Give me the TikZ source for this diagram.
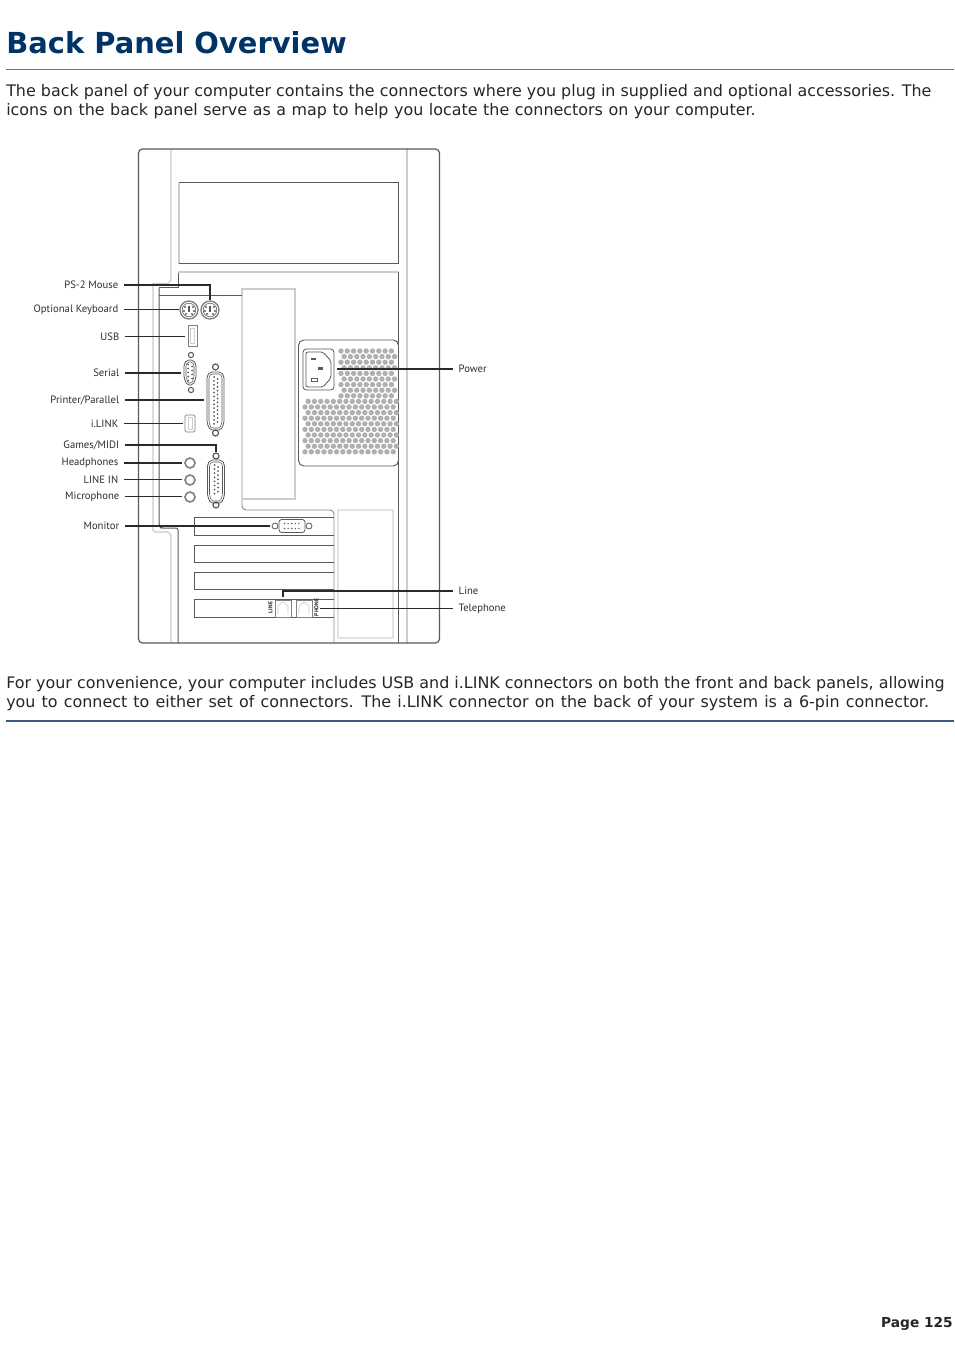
\documentclass[tikz,border=0pt]{standalone}
\usepackage{fontspec}
\setmainfont{DejaVu Sans}
\newfontfamily\lblfont{PT Sans}
\definecolor{titleblue}{HTML}{003366}
\definecolor{ruleblue}{HTML}{3D5A80}
\definecolor{partdark}{HTML}{5A5A5A}
\definecolor{partlight}{HTML}{CCCCCC}
\definecolor{partfaint}{HTML}{E2E2E2}
\definecolor{leadcol}{HTML}{2A2A2A}
\definecolor{ventcol}{HTML}{B0B0B0}
\tikzset{
  dark/.style={draw=partdark,line width=0.75pt},
  light/.style={draw=partlight,line width=0.8pt},
  faint/.style={draw=partfaint,line width=0.9pt},
  lead/.style={draw=leadcol,line width=0.85pt},
  body/.style={anchor=base west,inner sep=0pt,font=\fontsize{11.94pt}{14pt}\selectfont,text=black!85},
  lbl/.style={inner xsep=4.1pt,inner ysep=0pt,font=\lblfont\fontsize{8pt}{9pt}\selectfont,text=black!82},
  lbll/.style={lbl,anchor=east},
  lblr/.style={lbl,anchor=west},
  port/.style={draw=partdark,line width=0.6pt,inner sep=0pt},
  ring/.style={draw=black!50,line width=1pt,inner sep=0pt},
  ghost/.style={inner sep=0pt,minimum width=#1*0.75pt},
  card/.style={draw=partdark,line width=0.7pt},
  tiny/.style={font=\lblfont\bfseries\fontsize{4.2pt}{5pt}\selectfont,inner sep=0pt,text=black!85}
}
\newcommand{\dshell}[4]{% cx, top, bottom, half-width
  \draw[port,rounded corners=1.5pt] ({#1-#4},{#2+4}) -- ({#1-#4+3},{#2}) -- ({#1+#4-3},{#2}) -- ({#1+#4},{#2+4}) -- ({#1+#4},{#3-7}) -- ({#1+#4-3},{#3}) -- ({#1-#4+3},{#3}) -- ({#1-#4},{#3-7}) -- cycle;
  \draw[port,line width=0.4pt,rounded corners=1pt] ({#1-#4+2},{#2+5}) -- ({#1-#4+4},{#2+2}) -- ({#1+#4-4},{#2+2}) -- ({#1+#4-2},{#2+5}) -- ({#1+#4-2},{#3-8}) -- ({#1+#4-4},{#3-2}) -- ({#1-#4+4},{#3-2}) -- ({#1-#4+2},{#3-8}) -- cycle;
}
\begin{document}
\begin{tikzpicture}[x=0.75pt,y=-0.75pt]
\useasboundingbox (0,0) rectangle (954,1351);
\fill[white] (0,0) rectangle (954,1351);

% page text
\node[anchor=base west,inner sep=0pt,font=\bfseries\fontsize{21.7pt}{26pt}\selectfont,text=titleblue] (title) at (6,53.5) {Back Panel Overview};
\coordinate (r1a) at (6,69.5); \coordinate (r1b) at (954,69.5);
\draw[draw=black!55,line width=0.6pt] (r1a) -- (r1b);
\node[body] (p1) at (6,96.5) {The back panel of your computer contains the connectors where you plug in supplied and optional accessories. The};
\node[body] (p2) at (6,115.5) {\spaceskip=4.17pt icons on the back panel serve as a map to help you locate the connectors on your computer.};
\node[body] (p3) at (6,688) {For your convenience, your computer includes USB and i.LINK connectors on both the front and back panels, allowing};
\node[body] (p4) at (6,707) {\spaceskip=4.62pt you to connect to either set of connectors. The i.LINK connector on the back of your system is a 6-pin connector.};
\coordinate (r2a) at (6,721); \coordinate (r2b) at (954,721);
\draw[draw=ruleblue,line width=0.9pt] (r2a) -- (r2b);
\node[anchor=base east,inner sep=0pt,font=\bfseries\fontsize{10.3pt}{12pt}\selectfont,text=black!85] (page) at (953,1327) {Page 125};

% chassis light lines
\draw[light] (171,149) -- (171,280) -- (168,283.5) -- (153,283.5) -- (153,530) -- (155,532) -- (168,532) -- (171,535) -- (171,643);
\draw[light] (407,149) -- (407,643);
\draw[faint] (338,510) rectangle (393,638);
\draw[light] (242,296) -- (242,289) -- (295,289) -- (295,499) -- (243,499);

% upper bay
\draw[light,line width=1pt] (179,183) -- (179,264);
\draw[dark] (179,183) -- (398.5,183) -- (398.5,264) -- (179,264);

% chassis dark lines
\draw[dark,rounded corners=1.5pt] (159,288) -- (159,526) -- (161,528) -- (178,528) -- (178,643);
\draw[dark] (159,288) -- (178,288) -- (178,272);
\draw[light,line width=1pt] (178,272) -- (398.5,272);
\draw[dark] (398.5,272) -- (398.5,643);
\draw[dark] (159,296) -- (242,296);
\draw[draw=black!45,line width=0.7pt,rounded corners=3pt] (242,296) -- (242,510) -- (334,510) -- (334,643);

% outer case
\draw[draw=partdark,line width=0.9pt,rounded corners=3pt] (138.5,149) rectangle (439.5,643);

% cards
\draw[card] (334,517) -- (194,517) -- (194,535) -- (334,535);
\draw[card] (334,545) -- (194,545) -- (194,562) -- (334,562);
\draw[card] (334,572) -- (194,572) -- (194,589) -- (334,589);
\draw[card] (334,599) -- (194,599) -- (194,617) -- (334,617);

% power panel
\draw[draw=partdark,line width=0.7pt,fill=white,rounded corners=4pt] (298.5,340) rectangle (398.5,466);
\foreach \r in {0,...,18}{
  \pgfmathsetmacro{\yy}{351+\r*5.6}
  \pgfmathsetmacro{\off}{mod(\r,2)*3.15}
  \ifnum\r<9
    \foreach \c in {0,...,8}{ \fill[ventcol] ({341+\c*6.3+\off},\yy) circle[radius=2.7]; }
  \else
    \foreach \c in {0,...,14}{ \fill[ventcol] ({305+\c*6.3+\off},\yy) circle[radius=2.7]; }
  \fi
}
\node[draw=partdark,line width=0.6pt,rounded corners=2.5pt,fill=white,minimum width=31*0.75pt,minimum height=41*0.75pt,inner sep=0pt] (socket) at (318.5,369.5) {};
\draw[draw=partdark,line width=0.6pt,rounded corners=1.5pt] (306,352) -- (323,352) -- (331,361) -- (331,378) -- (323,387) -- (306,387) -- cycle;
\fill[partdark] (311,358) rectangle (316,360.5);
\fill[partdark] (318,367.5) rectangle (323,370);
\draw[partdark,line width=0.6pt] (311,378) rectangle (317,381);

% PS/2
\node[ring,circle,minimum size=18*0.75pt] (kbd) at (189,310) {};
\node[ring,circle,minimum size=18*0.75pt] (mouse) at (210,310) {};
\foreach \cx in {189,210}{
  \draw[port,line width=0.4pt] (\cx,310) circle[radius=6.8];
  \fill[partdark] (\cx-1.2,306.5) rectangle (\cx+1.2,312.5);
  \foreach \dx/\dy in {-4/-3,4/-3,-5/1,5/1,-3/4,3/4}{\fill[partdark] (\cx+\dx,310+\dy) circle[radius=1.1];}
}
% USB
\node[port,draw=black!50,minimum width=9*0.75pt,minimum height=21*0.75pt] (usb) at (192.5,336) {};
\draw[partlight,line width=0.5pt] (190.5,328) rectangle (194.5,343);
% serial
\node[ghost=12,minimum height=25*0.75pt] (serial) at (190,373) {};
\dshell{190}{360}{385}{6}
\foreach \i in {0,...,4}{\fill[partdark] (188,364.5+\i*4) circle[radius=1];}
\foreach \i in {0,...,3}{\fill[partdark] (192,366.5+\i*4) circle[radius=1];}
\draw[port,line width=0.8pt] (191,355) circle[radius=2.6];
\draw[port,line width=0.8pt] (191,390) circle[radius=2.6];
% parallel
\node[ghost=17,minimum height=58*0.75pt] (parallel) at (215.5,400) {};
\dshell{215.5}{372}{430}{8.5}
\foreach \i in {0,...,12}{\fill[partdark] (214,377+\i*3.9) circle[radius=1];}
\foreach \i in {0,...,11}{\fill[partdark] (217.5,379+\i*3.9) circle[radius=1];}
\draw[port,line width=0.9pt] (215.5,367) circle[radius=3];
\draw[port,line width=0.9pt] (215.5,433) circle[radius=3];
% i.LINK
\node[port,draw=black!50,rounded corners=1pt,minimum width=10*0.75pt,minimum height=17*0.75pt] (ilink) at (190,423.5) {};
\draw[partlight,line width=0.5pt] (188,417.5) rectangle (192,429.5);
% games
\node[circle,inner sep=0pt,minimum size=7*0.75pt] (games) at (216,456) {};
\draw[port,line width=0.9pt] (216,456) circle[radius=3];
\dshell{216}{460}{503}{8.5}
\foreach \i in {0,...,7}{\fill[partdark] (214.5,465+\i*4.1) circle[radius=1];}
\foreach \i in {0,...,6}{\fill[partdark] (218,467+\i*4.1) circle[radius=1];}
\draw[port,line width=0.9pt] (216,505) circle[radius=3];
% audio
\foreach \n/\yy in {head/463,linein/480,micro/497}{
  \node[ring,circle,line width=1.2pt,minimum size=10*0.75pt] (\n) at (190,\yy) {};
}
% VGA
\node[port,rounded corners=2pt,minimum width=26*0.75pt,minimum height=13*0.75pt] (vga) at (292,526) {};
\foreach \i in {0,...,4}{\fill[partdark] (284.5+\i*3.6,523.5) circle[radius=.8];}
\foreach \i in {0,...,4}{\fill[partdark] (284.5+\i*3.6,528.5) circle[radius=.8];}
\node[port,circle,minimum size=6*0.75pt] (vgal) at (275,526) {};
\node[port,circle,minimum size=6*0.75pt] (vgar) at (309,526) {};
% jacks
\node[port,draw=black!50,minimum width=16*0.75pt,minimum height=17*0.75pt] (linejack) at (283,608.5) {};
\node[port,draw=black!50,minimum width=16*0.75pt,minimum height=17*0.75pt] (teljack) at (304,608.5) {};
\draw[partlight,line width=0.5pt] (278,614) -- (278,606) -- (283,602) -- (288,606) -- (288,614);
\draw[partlight,line width=0.5pt] (299,614) -- (299,606) -- (304,602) -- (309,606) -- (309,614);
\node[tiny,rotate=90] (linetxt) at (270.5,607.5) {LINE};
\node[tiny,rotate=90] (phonetxt) at (316.5,607.5) {PHONE};

% labels
\node[lbll] (lps) at (124,285) {PS-2 Mouse};
\node[lbll] (lkb) at (124,309.5) {Optional Keyboard};
\node[lbll] (lusb) at (125,336.5) {USB};
\node[lbll] (lser) at (125,373) {Serial};
\node[lbll] (lpar) at (125,400) {Printer/Parallel};
\node[lbll] (lil) at (124,423.5) {i.LINK};
\node[lbll] (lgm) at (125,445) {Games/MIDI};
\node[lbll] (lhp) at (124,463) {Headphones};
\node[lbll] (lli) at (124,479.5) {LINE IN};
\node[lbll] (lmc) at (125,496.5) {Microphone};
\node[lbll] (lmn) at (125,526) {Monitor};
\node[lblr] (lpw) at (453,369) {Power};
\node[lblr] (lln) at (453,591) {Line};
\node[lblr] (ltl) at (453,608.5) {Telephone};

% connectors
\begin{scope}[lead]
\draw (lps.east) -| (mouse.north);
\draw (lkb.east) -- (lkb.east -| kbd.west);
\draw (lusb.east) -- ([xshift=-3*0.75pt]lusb.east -| usb.west);
\draw (lser.east) -- ([xshift=-3*0.75pt]lser.east -| serial.west);
\draw (lpar.east) -- ([xshift=-3*0.75pt]lpar.east -| parallel.west);
\draw (lil.east) -- ([xshift=-2*0.75pt]lil.east -| ilink.west);
\draw (lgm.east) -| (games.north);
\draw (lhp.east) -- ([xshift=-2*0.75pt]lhp.east -| head.west);
\draw (lli.east) -- ([xshift=-2*0.75pt]lli.east -| linein.west);
\draw (lmc.east) -- ([xshift=-2*0.75pt]lmc.east -| micro.west);
\draw (lmn.east) -- ([xshift=-2*0.75pt]lmn.east -| vgal.west);
\draw (lpw.west) -- ([xshift=3*0.75pt]lpw.west -| socket.east);
\draw (lln.west) -| ([yshift=3*0.75pt]linejack.north);
\draw (ltl.west) -- ([xshift=1*0.75pt]ltl.west -| phonetxt.south);
\end{scope}
\end{tikzpicture}
\end{document}
